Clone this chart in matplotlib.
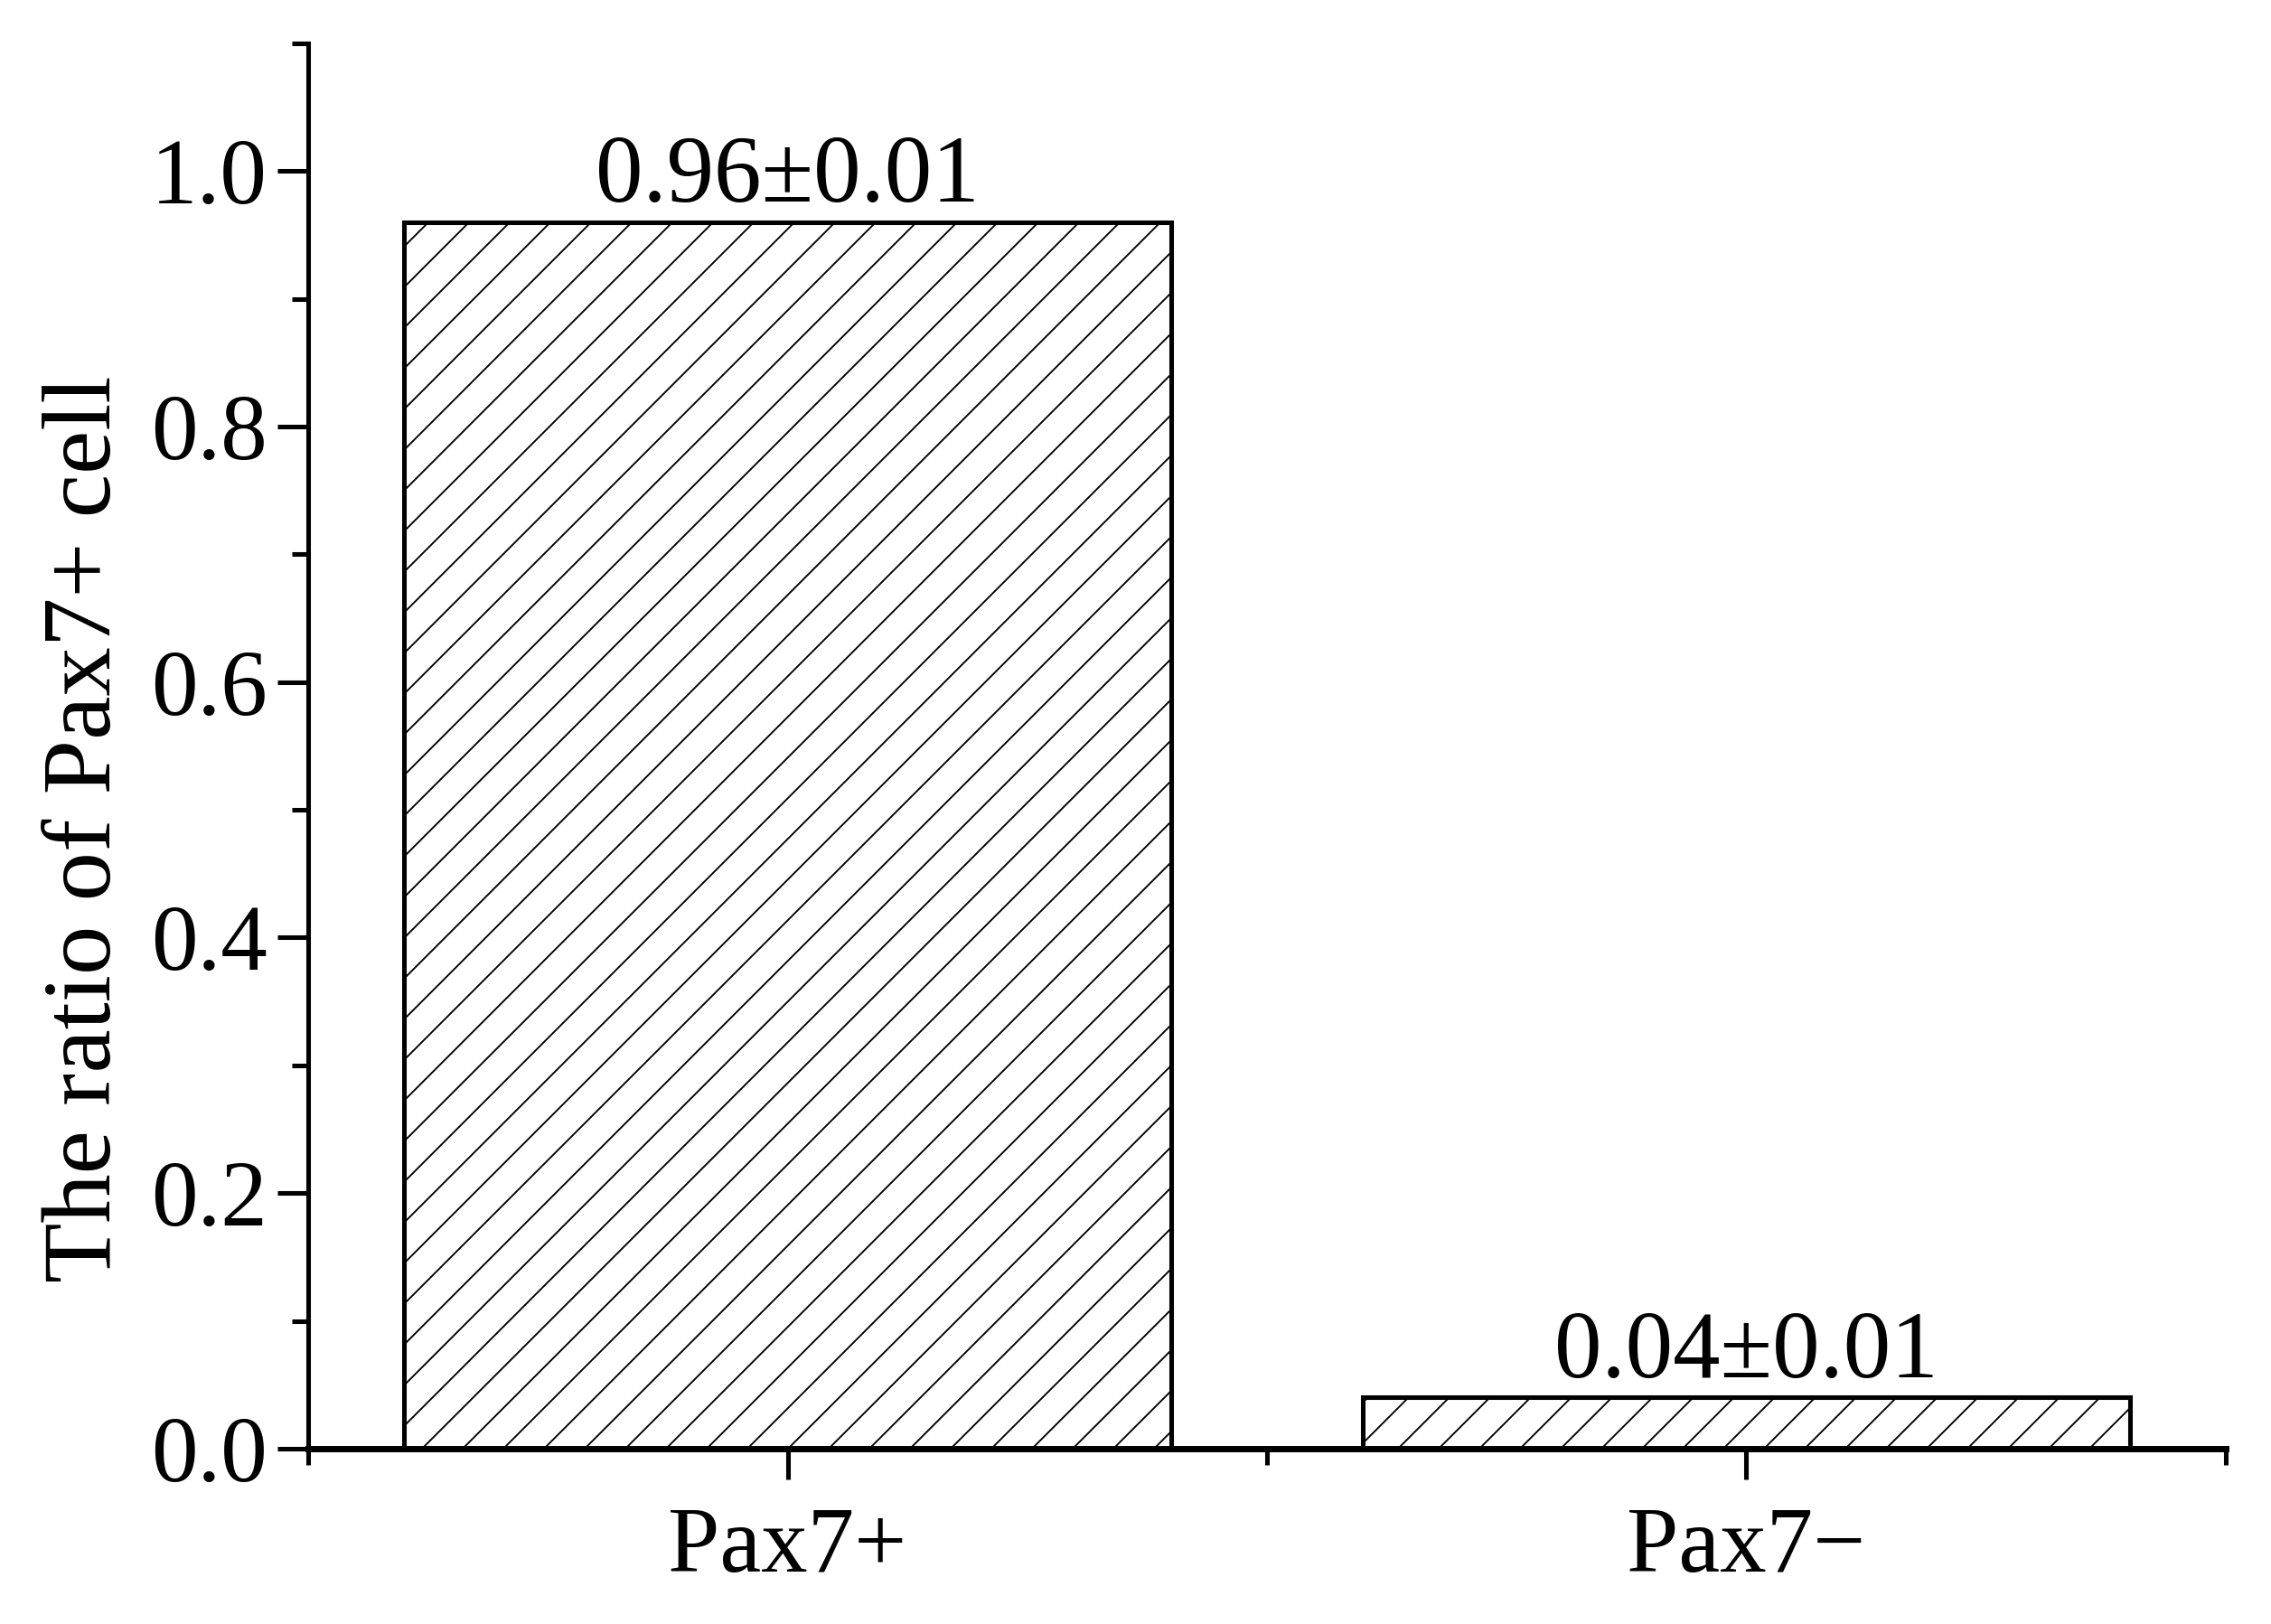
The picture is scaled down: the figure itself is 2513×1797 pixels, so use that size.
import matplotlib
matplotlib.use("Agg")
import matplotlib.pyplot as plt
from matplotlib.ticker import MultipleLocator, FixedLocator

# data
groups = ["Pax7+", "Pax7\u2212"]
ratios = [0.96, 0.04]
errors = [0.01, 0.01]

plt.rcParams["font.family"] = ["Liberation Serif", "DejaVu Serif"]
plt.rcParams["hatch.linewidth"] = 0.5
plt.rcParams["hatch.color"] = "black"

DPI = 270
fig = plt.figure(figsize=(2513 / DPI, 1797 / DPI), dpi=DPI)
ax = fig.add_axes([0.1357, 0.1080, 0.9801 - 0.1357, 0.9733 - 0.1080])

xpos = list(range(1, len(groups) + 1))
bars = ax.bar(xpos, ratios, width=0.8, facecolor="white", edgecolor="black",
              linewidth=1.35, hatch="//", zorder=2)

# value labels above the bars
for x, v, e in zip(xpos, ratios, errors):
    ax.annotate(f"{v:.2f}\u00b1{e:.2f}", xy=(x, v), xytext=(0, 6),
                textcoords="offset points", ha="center", va="baseline",
                fontsize=28)

ax.set_xlim(0.5, 2.5)
ax.set_ylim(0, 1.1)

ax.spines["top"].set_visible(False)
ax.spines["right"].set_visible(False)
ax.spines["left"].set_linewidth(1.35)
ax.spines["bottom"].set_linewidth(1.85)

ax.set_xticks(xpos)
ax.set_xticklabels(groups)
ax.xaxis.set_minor_locator(FixedLocator([0.5, 1.5, 2.5]))
ax.yaxis.set_major_locator(MultipleLocator(0.2))
ax.yaxis.set_minor_locator(MultipleLocator(0.1))
ax.yaxis.set_major_formatter(matplotlib.ticker.FormatStrFormatter("%.1f"))

ax.tick_params(axis="both", which="major", direction="out", length=9,
               width=1.35, labelsize=27.5)
ax.tick_params(axis="both", which="minor", direction="out", length=4.8,
               width=1.35)
ax.tick_params(axis="y", which="major", pad=3)
ax.tick_params(axis="x", which="major", pad=8)

ax.set_ylabel("The ratio of Pax7+ cell", fontsize=29, labelpad=6, y=0.441)

fig.savefig("out.png", dpi=DPI)
